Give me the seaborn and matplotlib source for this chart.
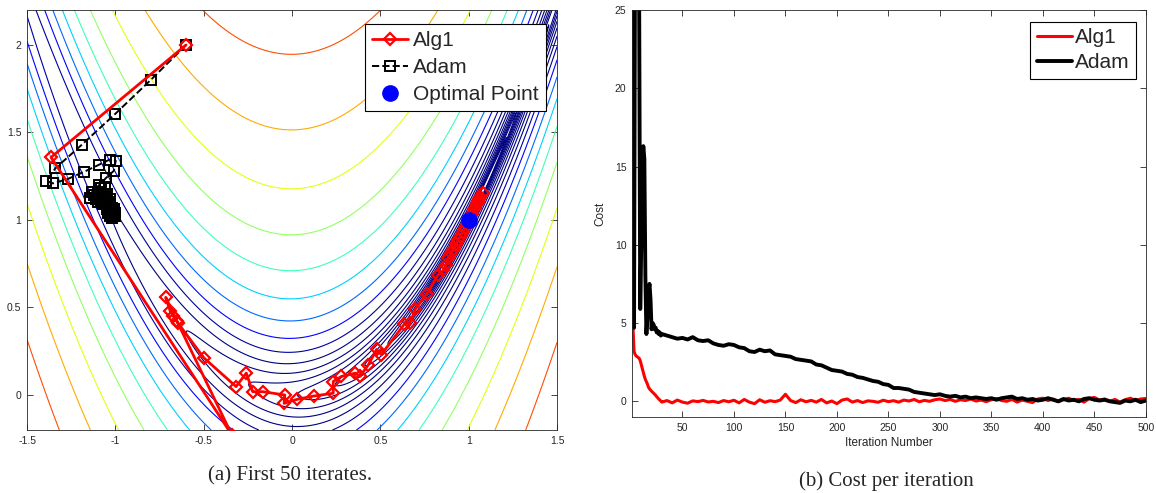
import numpy as np
import pandas as pd
import seaborn as sns
import matplotlib.pyplot as plt
from matplotlib.colors import LogNorm

# ---- panel (a): first 50 iterates on the Rosenbrock surface ----
alg1_x = [-0.60, -1.364, -0.34, -0.652, -0.715, -0.69, -0.673, -0.645, -0.499, -0.317,
          -0.259, -0.223, -0.167, -0.041, -0.045, 0.028, 0.122, 0.233, 0.233, 0.279,
          0.359, 0.384, 0.432, 0.478, 0.505, 0.635, 0.667, 0.698, 0.761, 0.824,
          0.855, 0.87, 0.885, 0.90, 0.915, 0.93, 0.94, 0.955, 0.965, 0.98,
          0.99, 1.005, 1.02, 1.035, 1.05, 1.065, 1.08, 1.06, 1.045, 1.03]
alg1_y = [2.00, 1.358, -0.23, 0.423, 0.558, 0.48, 0.452, 0.41, 0.212, 0.048,
          0.125, 0.019, 0.019, 0.0, -0.048, -0.025, -0.006, 0.01, 0.077, 0.106,
          0.125, 0.106, 0.173, 0.26, 0.231, 0.404, 0.413, 0.49, 0.577, 0.683,
          0.712, 0.745, 0.78, 0.81, 0.835, 0.865, 0.885, 0.91, 0.93, 0.955,
          0.975, 1.005, 1.035, 1.07, 1.10, 1.13, 1.155, 1.12, 1.09, 1.06]

adam_x = [-0.60, -0.80, -1.00, -1.19, -1.34, -1.39, -1.353, -1.27, -1.176, -1.092,
          -1.033, -0.998, -1.008, -1.054, -1.092, -1.134, -1.144, -1.12, -1.10, -1.08,
          -1.06, -1.07, -1.09, -1.11, -1.10, -1.08, -1.06, -1.05, -1.06, -1.07,
          -1.05, -1.04, -1.03, -1.04, -1.05, -1.03, -1.02, -1.03, -1.02, -1.01,
          -1.04, -1.02, -1.00, -1.01, -1.03, -1.02, -1.00, -1.01, -1.015, -1.005]
adam_y = [2.00, 1.80, 1.607, 1.43, 1.295, 1.224, 1.209, 1.234, 1.276, 1.316,
          1.345, 1.339, 1.282, 1.239, 1.199, 1.157, 1.123, 1.14, 1.16, 1.18,
          1.19, 1.15, 1.13, 1.12, 1.10, 1.11, 1.13, 1.15, 1.11, 1.09,
          1.08, 1.10, 1.12, 1.07, 1.06, 1.05, 1.07, 1.09, 1.04, 1.05,
          1.04, 1.03, 1.04, 1.02, 1.02, 1.01, 1.02, 1.06, 1.03, 1.025]

opt_x = [1.0]
opt_y = [1.0]

# ---- panel (b): cost per iteration ----
cost_iter = list(range(1, 31)) + list(range(35, 501, 5))
alg1_cost = [32.0, 4.7, 3.2, 3.0, 2.9, 2.85, 2.8, 2.75, 2.6, 2.35,
             2.1, 1.85, 1.6, 1.4, 1.25, 1.1, 0.9, 0.8, 0.72, 0.65,
             0.58, 0.52, 0.45, 0.38, 0.3, 0.22, 0.15, 0.08, 0.02, -0.05,
             0.05, -0.1, 0.08, -0.05, -0.12, 0.03, -0.02, 0.06, -0.04, 0.0,
             -0.08, 0.05, -0.03, 0.07, -0.1, 0.12, -0.05, -0.15, 0.1, -0.06,
             0.04, -0.02, 0.08, 0.45, 0.05, -0.08, 0.1, -0.03, 0.06, -0.05,
             0.12, -0.1, 0.02, -0.15, 0.08, 0.15, -0.05, 0.05, -0.08, 0.03,
             0.0, -0.06, 0.07, -0.02, 0.04, -0.05, 0.08, 0.02, 0.12, -0.03,
             0.06, 0.0, 0.1, 0.15, 0.05, 0.12, 0.0, 0.1, 0.05, 0.15,
             0.02, 0.08, -0.02, 0.1, 0.18, 0.05, 0.0, 0.12, -0.05, 0.08,
             0.0, -0.08, 0.15, 0.2, 0.05, 0.15, -0.02, 0.1, 0.2, 0.05,
             0.12, -0.05, 0.18, 0.25, 0.08, 0.15, 0.0, 0.12, -0.05, 0.1,
             0.2, 0.05, 0.15, 0.18]
adam_cost = [60.0, 30.0, 4.7, 30.0, 60.0, 60.0, 40.0, 25.0, 5.9, 10.0,
             15.0, 16.3, 15.5, 8.0, 4.3, 5.5, 7.0, 7.5, 6.5, 4.6,
             5.0, 4.9, 4.6, 4.7, 4.4, 4.5, 4.3, 4.4, 4.2, 4.3,
             4.2, 4.1, 4.0, 4.05, 3.95, 4.1, 3.9, 3.85, 3.9, 3.7,
             3.6, 3.55, 3.65, 3.6, 3.45, 3.4, 3.2, 3.15, 3.3, 3.2,
             3.25, 3.0, 2.95, 2.9, 2.85, 2.7, 2.65, 2.6, 2.55, 2.35,
             2.3, 2.15, 2.0, 1.95, 1.9, 1.75, 1.7, 1.55, 1.5, 1.4,
             1.3, 1.25, 1.1, 1.05, 0.85, 0.85, 0.8, 0.75, 0.6, 0.55,
             0.5, 0.45, 0.4, 0.45, 0.35, 0.3, 0.35, 0.25, 0.3, 0.2,
             0.25, 0.2, 0.15, 0.2, 0.1, 0.2, 0.25, 0.3, 0.15, 0.2,
             0.1, 0.15, 0.05, 0.1, 0.2, 0.1, 0.0, 0.15, 0.05, 0.1,
             0.0, 0.15, 0.2, 0.1, 0.05, 0.1, 0.0, -0.05, -0.1, 0.05,
             0.0, 0.1, -0.05, 0.05]

sns.set_style("ticks")
plt.rcParams['font.family'] = ['Liberation Sans', 'DejaVu Sans']
tick_col = '#262626'

fig = plt.figure(figsize=(11.56, 4.93), dpi=100)
ax1 = fig.add_axes([0.0234, 0.1278, 0.4585, 0.852])
ax2 = fig.add_axes([0.5467, 0.1542, 0.4445, 0.8256])

# rosenbrock contour lines, log spaced levels like the matlab figure
xg = np.linspace(-1.5, 1.5, 500)
yg = np.linspace(-0.2, 2.2, 500)
X, Y = np.meshgrid(xg, yg)
Z = (1 - X) ** 2 + 100 * (Y - X ** 2) ** 2
levels = np.exp(0.44 + 0.5 * np.arange(-7, 12))
ax1.contour(X, Y, Z, levels=levels, cmap='jet',
            norm=LogNorm(vmin=6, vmax=900), linewidths=0.8, zorder=1)

adam_df = pd.DataFrame({'x': adam_x, 'y': adam_y})
alg1_df = pd.DataFrame({'x': alg1_x, 'y': alg1_y})
sns.lineplot(data=adam_df, x='x', y='y', sort=False, estimator=None, ax=ax1,
             color='black', linestyle='--', linewidth=1.4, marker='s',
             markersize=6.5, markerfacecolor='none', markeredgecolor='black',
             markeredgewidth=1.4, label='Adam', zorder=3)
sns.lineplot(data=alg1_df, x='x', y='y', sort=False, estimator=None, ax=ax1,
             color='red', linewidth=2.0, marker='D', markersize=6.5,
             markerfacecolor='none', markeredgecolor='red',
             markeredgewidth=1.6, label='Alg1', zorder=4)
ax1.plot(opt_x, opt_y, 'o', color='blue', markersize=11, label='Optimal Point', zorder=5)

ax1.set_xlim(-1.5, 1.5)
ax1.set_ylim(-0.2, 2.2)
ax1.set_xticks([-1.5, -1, -0.5, 0, 0.5, 1, 1.5])
ax1.set_xticklabels(['-1.5', '-1', '-0.5', '0', '0.5', '1', '1.5'])
ax1.set_yticks([0, 0.5, 1, 1.5, 2])
ax1.set_yticklabels(['0', '0.5', '1', '1.5', '2'])
ax1.set_xlabel('')
ax1.set_ylabel('')

h, l = ax1.get_legend_handles_labels()
order = [l.index('Alg1'), l.index('Adam'), l.index('Optimal Point')]
leg1 = ax1.legend([h[i] for i in order], [l[i] for i in order],
                  loc='upper right', bbox_to_anchor=(0.979, 0.967), borderaxespad=0,
                  fontsize=15, handlelength=1.7, handletextpad=0.25,
                  labelspacing=0.38, borderpad=0.35, fancybox=False,
                  framealpha=1, edgecolor='black')
leg1.get_frame().set_linewidth(0.8)

# cost curves
cost_df = pd.DataFrame({'it': cost_iter, 'alg1': alg1_cost, 'adam': adam_cost})
sns.lineplot(data=cost_df, x='it', y='alg1', ax=ax2, color='red',
             linewidth=2.2, label='Alg1')
sns.lineplot(data=cost_df, x='it', y='adam', ax=ax2, color='black',
             linewidth=2.8, label='Adam')
ax2.set_xlim(1, 500)
ax2.set_ylim(-1, 25)
ax2.set_xticks(range(50, 501, 50))
ax2.set_yticks(range(0, 26, 5))
ax2.set_xlabel('Iteration Number', fontsize=8.5, color=tick_col, labelpad=3)
ax2.set_ylabel('Cost', fontsize=8.5, color=tick_col, labelpad=6)
leg2 = ax2.legend(loc='upper right', bbox_to_anchor=(0.981, 0.971), borderaxespad=0,
                  fontsize=15, handlelength=1.7, handletextpad=0.15,
                  labelspacing=0.3, borderpad=0.3, fancybox=False,
                  framealpha=1, edgecolor='black')
leg2.get_frame().set_linewidth(0.8)

for ax in (ax1, ax2):
    ax.tick_params(direction='in', top=True, right=True, length=4, width=0.6,
                   labelsize=7.5, labelcolor=tick_col, color=tick_col, pad=4)
    for sp in ax.spines.values():
        sp.set_visible(True)
        sp.set_color(tick_col)
        sp.set_linewidth(0.6)

fig.text(0.251, 0.034, '(a) First 50 iterates.', ha='center', va='center',
         fontsize=15, family='Liberation Serif')
fig.text(0.767, 0.024, '(b) Cost per iteration', ha='center', va='center',
         fontsize=15, family='Liberation Serif')

fig.savefig('out.png', dpi=100)
